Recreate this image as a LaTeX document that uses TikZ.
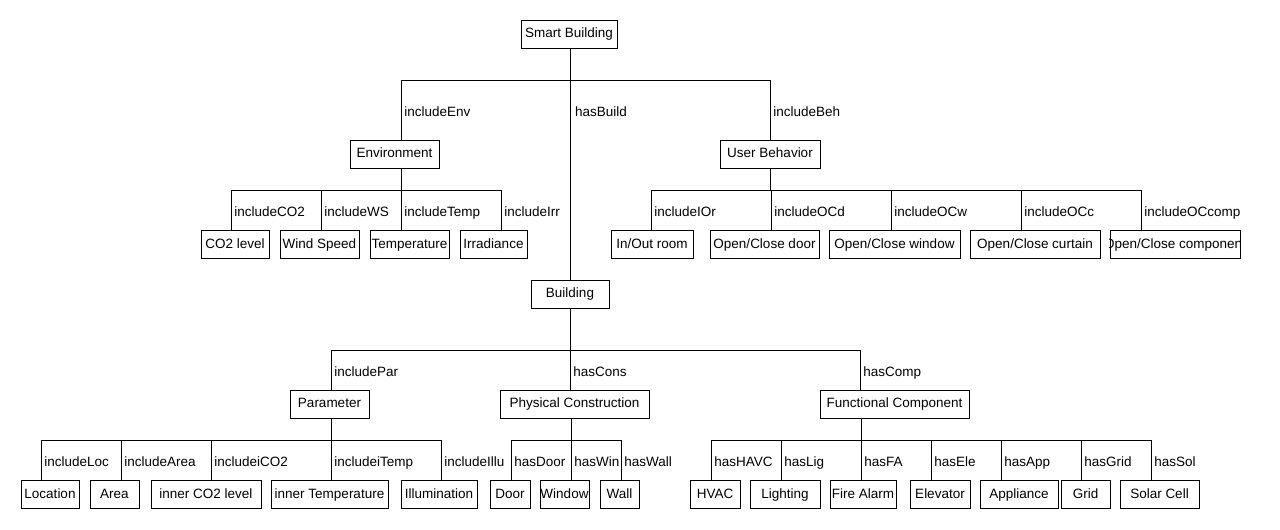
\documentclass[tikz,border=0pt]{standalone}
\usepackage{fontspec}
\setmainfont{Liberation Sans}
\begin{document}
\begin{tikzpicture}[x=1pt,y=-1pt,
  box/.style={draw,line width=0.9pt,minimum height=28pt,inner sep=0pt,text height=9.8pt,text depth=2.8pt,font=\fontsize{13.5}{16}\selectfont},
  lbl/.style={anchor=west,inner sep=2pt,xshift=1pt,yshift=-3pt,text height=9.8pt,text depth=2.8pt,font=\fontsize{13.5}{16}\selectfont},
  conn/.style={line width=0.9pt}]
\useasboundingbox[fill=white] (0,0) rectangle (1280,530);
\newcommand\mybranch[4]{%
  \coordinate (tmpb) at (#1,#2);
  \draw[conn] (tmpb) -- (tmpb |- #3.north) node[midway,lbl]{#4};}
% nodes
\node[box,minimum width=96pt] (sb) at (569,34) {Smart Building};
\node[box,minimum width=89pt] (env) at (394.5,154) {Environment};
\node[box,minimum width=100pt] (ub) at (770,154) {User Behavior};
\node[box,minimum width=68pt] (co2) at (235,244.5) {CO2 level};
\node[box,minimum width=79pt] (ws) at (319.5,244.5) {Wind Speed};
\node[box,minimum width=79pt] (temp) at (409.5,244.5) {Temperature};
\node[box,minimum width=67pt] (irr) at (493.5,244.5) {Irradiance};
\node[box,minimum width=82pt] (ior) at (652,244.5) {In/Out room};
\node[box,minimum width=109pt] (ocd) at (764.5,244.5) {Open/Close door};
\node[box,minimum width=131pt] (ocw) at (894.5,244.5) {Open/Close window};
\node[box,minimum width=130pt] (occ) at (1035,244.5) {Open/Close curtain};
\node[box,minimum width=130pt] (occomp) at (1175,244.5) {};
\begin{scope}
  \clip (occomp.south west) rectangle (occomp.north east);
  \node[inner sep=0pt,text height=9.8pt,text depth=2.8pt,font=\fontsize{13.5}{16}\selectfont] (occomptxt) at (occomp.center) {Open/Close component};
\end{scope}
\node[box,minimum width=78pt] (bld) at (570,294) {Building};
\node[box,minimum width=79pt] (par) at (329.5,404) {Parameter};
\node[box,minimum width=149pt] (pc) at (574.5,404) {Physical Construction};
\node[box,minimum width=149pt] (fc) at (894.5,404) {Functional Component};
\node[box,minimum width=58pt] (loc) at (50,494.5) {Location};
\node[box,minimum width=49pt] (area) at (114.5,494.5) {Area};
\node[box,minimum width=110pt] (ico2) at (206,494.5) {inner CO2 level};
\node[box,minimum width=117pt] (itemp) at (329.5,494.5) {inner Temperature};
\node[box,minimum width=76pt] (illu) at (439,494.5) {Illumination};
\node[box,minimum width=40pt] (door) at (510,494.5) {Door};
\node[box,minimum width=49pt] (win) at (564.5,494.5) {Window};
\node[box,minimum width=39pt] (wall) at (619.5,494.5) {Wall};
\node[box,minimum width=50pt] (hvac) at (715,494.5) {HVAC};
\node[box,minimum width=70pt] (lig) at (785,494.5) {Lighting};
\node[box,minimum width=66pt] (fa) at (863,494.5) {Fire Alarm};
\node[box,minimum width=60pt] (ele) at (940,494.5) {Elevator};
\node[box,minimum width=78pt] (app) at (1019,494.5) {Appliance};
\node[box,minimum width=49pt] (grid) at (1085.5,494.5) {Grid};
\node[box,minimum width=79pt] (sol) at (1159.5,494.5) {Solar Cell};
% top level
\coordinate (trunk) at (570,80);
\draw[conn] (trunk |- sb.south) -- (trunk |- bld.north);
\node[lbl,yshift=3pt] (hb) at (572,113) {hasBuild};
\draw[conn] (401,80) -- (770,80);
\mybranch{401}{80}{env}{includeEnv}
\mybranch{770}{80}{ub}{includeBeh}
% environment
\coordinate (envstem) at (401,190);
\draw[conn] (envstem |- env.south) -- (envstem);
\draw[conn] (231,190) -- (501,190);
\mybranch{231}{190}{co2}{includeCO2}
\mybranch{321}{190}{ws}{includeWS}
\mybranch{401}{190}{temp}{includeTemp}
\mybranch{501}{190}{irr}{includeIrr}
% user behavior
\coordinate (ubstem) at (770,190);
\draw[conn] (ubstem |- ub.south) -- (ubstem);
\draw[conn] (651,190) -- (1141,190);
\mybranch{651}{190}{ior}{includeIOr}
\mybranch{771}{190}{ocd}{includeOCd}
\mybranch{891}{190}{ocw}{includeOCw}
\mybranch{1021}{190}{occ}{includeOCc}
\mybranch{1141}{190}{occomp}{includeOCcomp}
% building
\coordinate (bldstem) at (570,350);
\draw[conn] (bldstem |- bld.south) -- (bldstem);
\draw[conn] (331,350) -- (860,350);
\mybranch{331}{350}{par}{includePar}
\mybranch{570}{350}{pc}{hasCons}
\mybranch{860}{350}{fc}{hasComp}
% parameter
\coordinate (parstem) at (331,440);
\draw[conn] (parstem |- par.south) -- (parstem);
\draw[conn] (41,440) -- (441,440);
\mybranch{41}{440}{loc}{includeLoc}
\mybranch{121}{440}{area}{includeArea}
\mybranch{211}{440}{ico2}{includeiCO2}
\mybranch{331}{440}{itemp}{includeiTemp}
\mybranch{441}{440}{illu}{includeIllu}
% physical construction
\coordinate (pcstem) at (571,440);
\draw[conn] (pcstem |- pc.south) -- (pcstem);
\draw[conn] (511,440) -- (621,440);
\mybranch{511}{440}{door}{hasDoor}
\mybranch{571}{440}{win}{hasWin}
\mybranch{621}{440}{wall}{hasWall}
% functional component
\coordinate (fcstem) at (861,440);
\draw[conn] (fcstem |- fc.south) -- (fcstem);
\draw[conn] (711,440) -- (1151,440);
\mybranch{711}{440}{hvac}{hasHAVC}
\mybranch{781}{440}{lig}{hasLig}
\mybranch{861}{440}{fa}{hasFA}
\mybranch{931}{440}{ele}{hasEle}
\mybranch{1001}{440}{app}{hasApp}
\mybranch{1081}{440}{grid}{hasGrid}
\mybranch{1151}{440}{sol}{hasSol}
\end{tikzpicture}
\end{document}
